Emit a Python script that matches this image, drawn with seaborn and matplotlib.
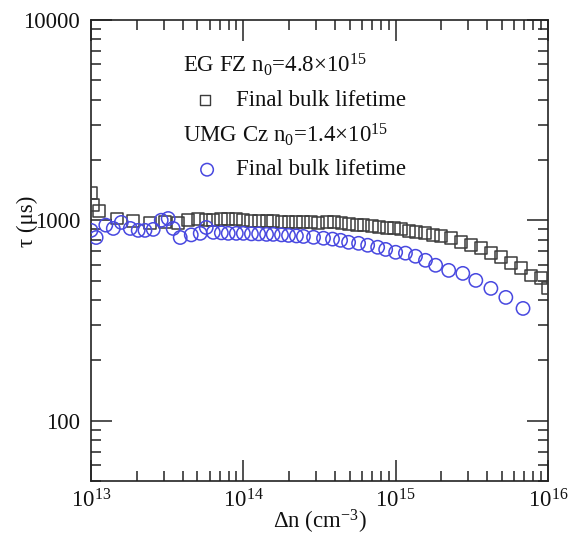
import matplotlib
matplotlib.use("Agg")
import matplotlib.pyplot as plt
import matplotlib.ticker as mticker
import seaborn as sns
import numpy as np

# ---- data ----
dn_fz = [1.00e13, 1.03e13, 1.13e13, 1.48e13, 1.89e13, 2.44e13, 3.07e13, 3.73e13, 4.35e13, 5.06e13,
         5.71e13, 6.35e13, 7.17e13, 7.96e13, 8.99e13, 1.00e14, 1.13e14, 1.26e14, 1.42e14, 1.57e14,
         1.78e14, 1.98e14, 2.23e14, 2.48e14, 2.80e14, 3.11e14, 3.52e14, 3.91e14, 4.41e14, 4.91e14,
         5.54e14, 6.15e14, 6.95e14, 7.73e14, 8.73e14, 9.71e14, 1.09e15, 1.22e15, 1.37e15, 1.55e15,
         1.75e15, 1.98e15, 2.30e15, 2.68e15, 3.11e15, 3.62e15, 4.22e15, 4.91e15, 5.71e15, 6.64e15,
         7.73e15, 8.99e15, 1.00e16]
tau_fz = [1370, 1190, 1110, 1020, 990, 965, 975, 965, 1000, 1010,
          1000, 1000, 1010, 1010, 1010, 1000, 990, 990, 990, 990,
          975, 975, 975, 975, 975, 965, 975, 975, 965, 955,
          945, 945, 935, 925, 910, 910, 900, 880, 870, 860,
          845, 830, 815, 775, 750, 725, 685, 655, 610, 575,
          530, 515, 460]

dn_umg = [1.00e13, 1.08e13, 1.25e13, 1.40e13, 1.58e13, 1.81e13, 2.04e13, 2.26e13, 2.56e13, 2.89e13,
          3.21e13, 3.46e13, 3.85e13, 4.55e13, 5.21e13, 5.71e13, 6.35e13, 7.17e13, 7.96e13, 8.99e13,
          1.00e14, 1.13e14, 1.26e14, 1.42e14, 1.57e14, 1.78e14, 1.98e14, 2.23e14, 2.48e14, 2.89e14,
          3.36e14, 3.85e14, 4.35e14, 4.91e14, 5.71e14, 6.55e14, 7.62e14, 8.60e14, 1.00e15, 1.16e15,
          1.35e15, 1.57e15, 1.83e15, 2.23e15, 2.76e15, 3.36e15, 4.22e15, 5.29e15, 6.86e15]
tau_umg = [890, 820, 945, 910, 975, 910, 890, 890, 900, 1000,
           1020, 910, 820, 845, 860, 920, 870, 865, 860, 860,
           860, 855, 855, 850, 850, 845, 840, 835, 830, 822,
           813, 805, 794, 776, 767, 750, 733, 715, 692, 685,
           661, 631, 596, 562, 543, 501, 457, 412, 363]

header_fz = "EG FZ n$_0$=4.8×10$^{15}$"
header_umg = "UMG Cz n$_0$=1.4×10$^{15}$"
series_label = "Final bulk lifetime"

# ---- style ----
sns.set_theme(style="white")
plt.rcParams["font.family"] = ["Liberation Serif", "DejaVu Serif"]
plt.rcParams["mathtext.fontset"] = "custom"
plt.rcParams["mathtext.rm"] = "Liberation Serif"
plt.rcParams["mathtext.it"] = "Liberation Serif:italic"
plt.rcParams["mathtext.bf"] = "Liberation Serif:bold"

FS = 16.5
sq_col = "#3c3c3c"
ci_col = "#4848e0"

fig = plt.figure(figsize=(5.69, 5.40), dpi=100)
ax = fig.add_axes([0.160, 0.1093, 0.803, 0.854])

sns.scatterplot(x=dn_fz, y=tau_fz, ax=ax, marker="s", s=8.6**2,
                facecolors="none", edgecolors=sq_col, linewidths=1.1, zorder=3)
sns.scatterplot(x=dn_umg, y=tau_umg, ax=ax, marker="o", s=9.6**2,
                facecolors="none", edgecolors=ci_col, linewidths=1.1, zorder=4)

ax.set_xscale("log")
ax.set_yscale("log")
ax.set_xlim(1e13, 1e16)
ax.set_ylim(50, 10000)

ax.yaxis.set_major_locator(mticker.FixedLocator([100, 1000, 10000]))
ax.yaxis.set_major_formatter(mticker.FuncFormatter(lambda v, p: f"{v:.0f}"))
ax.yaxis.set_minor_locator(mticker.LogLocator(base=10, subs=np.arange(2, 10)))
ax.yaxis.set_minor_formatter(mticker.NullFormatter())
ax.xaxis.set_major_locator(mticker.LogLocator(base=10, numticks=10))
ax.xaxis.set_minor_locator(mticker.LogLocator(base=10, subs=np.arange(2, 10), numticks=10))
ax.xaxis.set_minor_formatter(mticker.NullFormatter())

ax.tick_params(which="both", direction="in", top=True, right=True, bottom=True, left=True,
               colors="#222222", width=1.1, labelsize=FS, labelcolor="#111111")
ax.tick_params(which="major", length=15, pad=8)
ax.tick_params(axis="x", which="major", pad=6)
ax.tick_params(which="minor", length=7.5)
for sp in ax.spines.values():
    sp.set_color("#222222")
    sp.set_linewidth(1.2)

ax.set_xlabel("Δn (cm$^{-3}$)", fontsize=FS, color="#111111", labelpad=-3)
ax.set_ylabel("τ (μs)", fontsize=FS, color="#111111")
ax.yaxis.set_label_coords(-0.116, 0.564)

# ---- in-plot legend ----
ax.text(0.201, 0.902, header_fz, transform=ax.transAxes, fontsize=FS,
        ha="left", va="center", color="#111111")
ax.scatter([0.249], [0.826], transform=ax.transAxes, marker="s", s=7.0**2,
           facecolors="none", edgecolors=sq_col, linewidths=1.0, clip_on=False)
ax.text(0.317, 0.826, series_label, transform=ax.transAxes, fontsize=FS,
        ha="left", va="center", color="#111111")
ax.text(0.201, 0.751, header_umg, transform=ax.transAxes, fontsize=FS,
        ha="left", va="center", color="#111111")
ax.scatter([0.254], [0.675], transform=ax.transAxes, marker="o", s=9.0**2,
           facecolors="none", edgecolors=ci_col, linewidths=1.1, clip_on=False)
ax.text(0.317, 0.675, series_label, transform=ax.transAxes, fontsize=FS,
        ha="left", va="center", color="#111111")

fig.savefig("out.png", dpi=100)
